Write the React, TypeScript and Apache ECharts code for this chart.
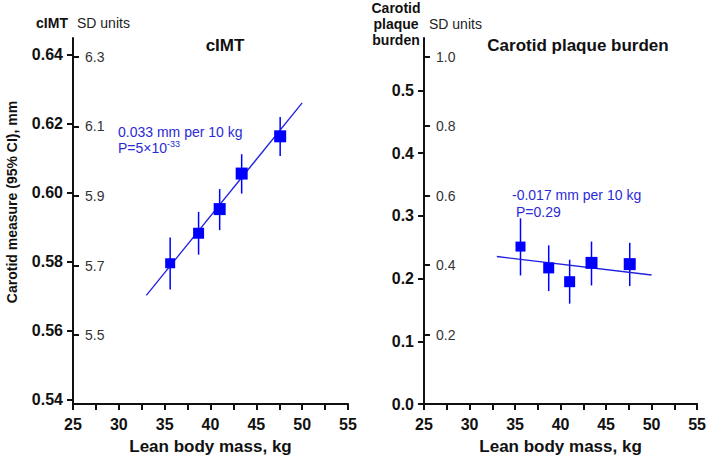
import React, { useEffect, useRef } from "react";
import * as echarts from "echarts";

const leanMass = [35.6, 38.7, 41.0, 43.4, 47.6];
const cimtMean = [0.5796, 0.5883, 0.5953, 0.6056, 0.6164];
const cimtLow = [0.572, 0.5821, 0.5892, 0.5998, 0.6107];
const cimtHigh = [0.5871, 0.5945, 0.6011, 0.6112, 0.622];
const plaqueMean = [0.251, 0.217, 0.195, 0.225, 0.223];
const plaqueLow = [0.205, 0.18, 0.16, 0.189, 0.188];
const plaqueHigh = [0.296, 0.253, 0.23, 0.259, 0.257];
const cimtSizes = [10, 11, 12, 12, 12];
const plaqueSizes = [10, 11, 11, 12, 12];
const fitX = [33, 50];
const cimtFit = [0.5703, 0.6261];
const plaqueFit = [0.2352, 0.2057];
const mmTicksL = [0.54, 0.56, 0.58, 0.6, 0.62, 0.64];
const sdTicksL = [5.5, 5.7, 5.9, 6.1, 6.3];
const mmTicksR = [0, 0.1, 0.2, 0.3, 0.4, 0.5];
const sdTicksR = [0.2, 0.4, 0.6, 0.8, 1.0];

const FONT = "'Liberation Sans', Arial, Helvetica, sans-serif";
const BLUE = "#0000ff";
const TEXT_BLUE = "#2b2bd6";

function xAxisFor(gridIndex: number) {
  return {
    type: "value",
    gridIndex,
    min: 25,
    max: 55,
    interval: 2.5,
    name: "Lean body mass, kg",
    nameLocation: "middle",
    nameGap: 34,
    nameTextStyle: { fontSize: 17, fontWeight: "bold", color: "#111", fontFamily: FONT },
    axisLine: { show: true, onZero: false, lineStyle: { color: "#111", width: 2 } },
    axisTick: { show: true, length: 6, lineStyle: { color: "#111", width: 2 } },
    axisLabel: {
      fontSize: 16,
      fontWeight: "bold",
      color: "#111",
      margin: 12,
      fontFamily: FONT,
      formatter: (v: number) => (v % 5 === 0 ? String(v) : ""),
    },
    splitLine: { show: false },
  };
}

function mmAxis(gridIndex: number, min: number, max: number, ticks: number[], digits: number) {
  return {
    type: "value",
    gridIndex,
    position: "left",
    min,
    max,
    axisLine: { show: true, onZero: false, lineStyle: { color: "#111", width: 2 } },
    axisTick: { show: true, length: 6, customValues: ticks, lineStyle: { color: "#111", width: 2 } },
    axisLabel: {
      customValues: ticks,
      fontSize: 16,
      fontWeight: "bold",
      color: "#111",
      margin: 10,
      fontFamily: FONT,
      formatter: (v: number) => v.toFixed(digits),
    },
    splitLine: { show: false },
  };
}

function sdAxis(gridIndex: number, min: number, max: number, ticks: number[]) {
  return {
    type: "value",
    gridIndex,
    position: "left",
    offset: 0,
    min,
    max,
    axisLine: { show: false },
    axisTick: { show: true, inside: true, length: 6, customValues: ticks, lineStyle: { color: "#111", width: 2 } },
    axisLabel: {
      inside: true,
      customValues: ticks,
      fontSize: 14,
      color: "#333",
      margin: 12,
      fontFamily: FONT,
      formatter: (v: number) => v.toFixed(1),
    },
    splitLine: { show: false },
  };
}

function errorSeries(xAxisIndex: number, yAxisIndex: number, lo: number[], hi: number[]) {
  return {
    type: "custom",
    xAxisIndex,
    yAxisIndex,
    z: 2,
    data: leanMass.map((x, i) => [x, lo[i], hi[i]]),
    renderItem: (_params: any, api: any) => {
      const p1 = api.coord([api.value(0), api.value(1)]);
      const p2 = api.coord([api.value(0), api.value(2)]);
      return {
        type: "line",
        shape: { x1: p1[0], y1: p1[1], x2: p2[0], y2: p2[1] },
        style: { stroke: BLUE, lineWidth: 1.5 },
      };
    },
  };
}

function pointSeries(xAxisIndex: number, yAxisIndex: number, mean: number[], sizes: number[]) {
  return {
    type: "scatter",
    xAxisIndex,
    yAxisIndex,
    z: 4,
    symbol: "rect",
    itemStyle: { color: BLUE, opacity: 1 },
    data: leanMass.map((x, i) => ({ value: [x, mean[i]], symbolSize: sizes[i] })),
  };
}

function fitSeries(xAxisIndex: number, yAxisIndex: number, fit: number[]) {
  return {
    type: "line",
    xAxisIndex,
    yAxisIndex,
    z: 3,
    showSymbol: false,
    symbol: "none",
    lineStyle: { color: "#2020e0", width: 1.3 },
    data: fitX.map((x, i) => [x, fit[i]]),
  };
}

const txt = (x: number, y: number, text: string, opts: any = {}) => ({
  type: "text",
  x,
  y,
  style: {
    text,
    fontFamily: FONT,
    fontSize: 14,
    fill: "#111",
    align: "left",
    verticalAlign: "middle",
    ...opts,
  },
});

export default function App() {
  const ref = useRef<HTMLDivElement>(null);
  useEffect(() => {
    document.body.style.margin = "0";
    const chart = echarts.init(ref.current!, null, { renderer: "svg" });
    chart.setOption({
      animation: false,
      backgroundColor: "#ffffff",
      textStyle: { fontFamily: FONT },
      grid: [
        { left: 73, top: 38, width: 275, height: 368 },
        { left: 424, top: 38, width: 276, height: 368 },
      ],
      xAxis: [xAxisFor(0), xAxisFor(1)],
      yAxis: [
        mmAxis(0, 0.5388, 0.6449, mmTicksL, 2),
        sdAxis(0, 5.3018, 6.3543, sdTicksL),
        mmAxis(1, 0, 0.5836, mmTicksR, 1),
        sdAxis(1, 0, 1.0535, sdTicksR),
      ],
      series: [
        errorSeries(0, 0, cimtLow, cimtHigh),
        fitSeries(0, 0, cimtFit),
        pointSeries(0, 0, cimtMean, cimtSizes),
        errorSeries(1, 2, plaqueLow, plaqueHigh),
        fitSeries(1, 2, plaqueFit),
        pointSeries(1, 2, plaqueMean, plaqueSizes),
      ],
      graphic: [
        txt(52, 23, "cIMT", { fontWeight: "bold", align: "center" }),
        txt(77, 23, "SD units", { fill: "#222" }),
        txt(396, 8, "Carotid", { fontWeight: "bold", align: "center" }),
        txt(396, 24, "plaque", { fontWeight: "bold", align: "center" }),
        txt(396, 40, "burden", { fontWeight: "bold", align: "center" }),
        txt(429, 24, "SD units", { fill: "#222" }),
        txt(225, 45, "cIMT", { fontWeight: "bold", fontSize: 17, align: "center" }),
        txt(578, 45, "Carotid plaque burden", { fontWeight: "bold", fontSize: 17, align: "center" }),
        txt(118, 132, "0.033 mm per 10 kg", { fill: TEXT_BLUE }),
        {
          type: "text",
          x: 118,
          y: 148,
          style: {
            text: "P=5×10{sup|-33}",
            fontFamily: FONT,
            fontSize: 14,
            fill: TEXT_BLUE,
            verticalAlign: "middle",
            rich: {
              sup: { fontSize: 9, fill: TEXT_BLUE, verticalAlign: "top", padding: [0, 0, 8, 0] },
            },
          },
        },
        txt(512, 195, "-0.017 mm per 10 kg", { fill: TEXT_BLUE }),
        txt(516, 212, "P=0.29", { fill: TEXT_BLUE }),
        {
          type: "text",
          x: 12,
          y: 202,
          rotation: Math.PI / 2,
          style: {
            text: "Carotid measure (95% CI), mm",
            fontFamily: FONT,
            fontSize: 14,
            fontWeight: "bold",
            fill: "#111",
            align: "center",
            verticalAlign: "middle",
          },
        },
      ],
    });
    return () => chart.dispose();
  }, []);
  return <div ref={ref} style={{ width: 709, height: 460 }} />;
}
